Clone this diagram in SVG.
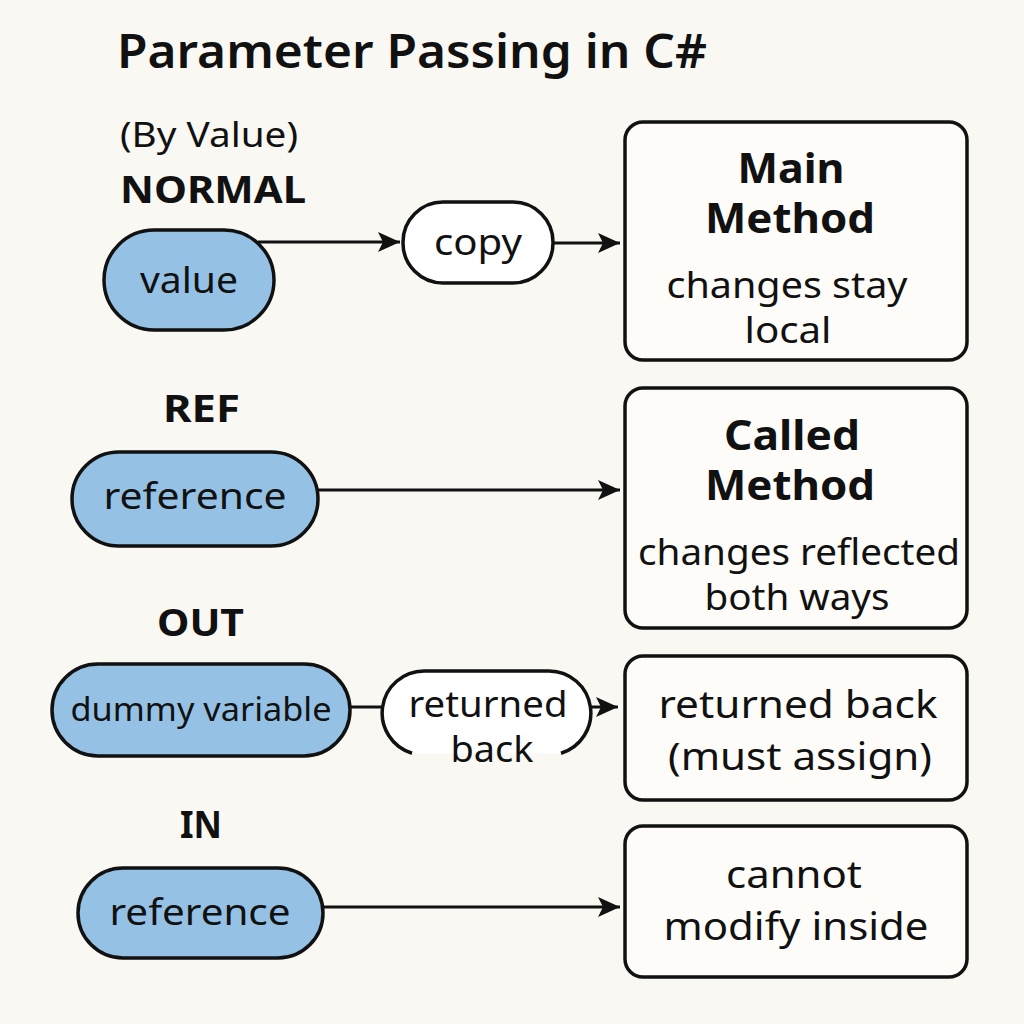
<svg xmlns="http://www.w3.org/2000/svg" width="1024" height="1024" viewBox="0 0 1024 1024">
<defs>
<style>
text{font-family:"Noto Sans","Open Sans","DejaVu Sans",sans-serif;fill:#111;}
.t{font-size:37px;text-anchor:middle;}
.b{font-weight:bold;}
.lbl{font-size:38px;font-weight:bold;text-anchor:middle;}
.h{font-size:42px;font-weight:bold;text-anchor:middle;}
.pill{fill:#95c1e5;stroke:#111;stroke-width:3.5;}
.wp{fill:#fff;stroke:#111;stroke-width:3.5;}
.box{fill:#fdfcf8;stroke:#111;stroke-width:3.5;}
.ln{stroke:#111;stroke-width:3;fill:none;}
</style>
<marker id="a" viewBox="0 0 22 20" refX="22" refY="10" markerWidth="22" markerHeight="20" markerUnits="userSpaceOnUse" orient="auto">
<path d="M0,0 L22,10 L0,20 L5,10 Z" fill="#111"/>
</marker>
</defs>
<rect width="1024" height="1024" fill="#faf8f3"/>
<text x="117" y="68" style="font-size:46px;font-weight:600" textLength="590" lengthAdjust="spacingAndGlyphs">Parameter Passing in C#</text>
<text x="120" y="147" style="font-size:35px" textLength="178" lengthAdjust="spacingAndGlyphs">(By Value)</text>
<text x="120" y="203" style="font-size:38px" class="b" textLength="186" lengthAdjust="spacingAndGlyphs">NORMAL</text>
<text x="163" y="422" style="font-size:38px" class="b" textLength="77" lengthAdjust="spacingAndGlyphs">REF</text>
<text x="157" y="636" style="font-size:38px" class="b" textLength="87" lengthAdjust="spacingAndGlyphs">OUT</text>
<text x="180" y="838" style="font-size:38px" class="b" textLength="42" lengthAdjust="spacingAndGlyphs">IN</text>

<g id="connectors">
<line class="ln" x1="258" y1="242" x2="400" y2="242" marker-end="url(#a)"/>
<line class="ln" x1="553" y1="243" x2="620" y2="243" marker-end="url(#a)"/>
<line class="ln" x1="318" y1="490" x2="620" y2="490" marker-end="url(#a)"/>
<line class="ln" x1="350" y1="707" x2="383" y2="707"/>
<line class="ln" x1="591" y1="707" x2="618" y2="707" marker-end="url(#a)"/>
<line class="ln" x1="323" y1="907" x2="620" y2="907" marker-end="url(#a)"/>
</g>

<g id="value">
<rect class="pill" x="104" y="230" width="170" height="100" rx="50"/>
<text class="t" x="189" y="293" textLength="98" lengthAdjust="spacingAndGlyphs">value</text>
</g>
<g id="copy">
<rect class="wp" x="403" y="202" width="150" height="81" rx="40"/>
<text class="t" x="478" y="255" textLength="88" lengthAdjust="spacingAndGlyphs">copy</text>
</g>
<g id="main">
<rect class="box" x="625" y="122" width="342" height="238" rx="18"/>
<text class="h" x="791" y="183" textLength="107" lengthAdjust="spacingAndGlyphs">Main</text>
<text class="h" x="790" y="233" textLength="170" lengthAdjust="spacingAndGlyphs">Method</text>
<text class="t" x="787" y="298" textLength="241" lengthAdjust="spacingAndGlyphs">changes stay</text>
<text class="t" x="788" y="343" textLength="87" lengthAdjust="spacingAndGlyphs">local</text>
</g>

<g id="ref">
<rect class="pill" x="72" y="452" width="246" height="94" rx="47"/>
<text class="t" x="195" y="509" textLength="183" lengthAdjust="spacingAndGlyphs">reference</text>
</g>
<g id="called">
<rect class="box" x="625" y="388" width="342" height="240" rx="18"/>
<text class="h" x="792" y="450" textLength="136" lengthAdjust="spacingAndGlyphs">Called</text>
<text class="h" x="790" y="500" textLength="170" lengthAdjust="spacingAndGlyphs">Method</text>
<text class="t" x="799" y="565" textLength="322" lengthAdjust="spacingAndGlyphs">changes reflected</text>
<text class="t" x="797" y="610" textLength="185" lengthAdjust="spacingAndGlyphs">both ways</text>
</g>

<g id="dummy">
<rect class="pill" x="52" y="664" width="298" height="92" rx="46"/>
<text class="t" x="201" y="721" style="font-size:33px" textLength="261" lengthAdjust="spacingAndGlyphs">dummy variable</text>
</g>
<g id="returned">
<path class="wp" d="M412 753.2 A42 42 0 0 1 424 671 L549 671 A42 42 0 0 1 561 753.2"/>
<text class="t" x="488" y="717" textLength="159" lengthAdjust="spacingAndGlyphs">returned</text>
<text class="t" x="492" y="762" textLength="83" lengthAdjust="spacingAndGlyphs">back</text>
</g>
<g id="outbox">
<rect class="box" x="625" y="656" width="342" height="144" rx="18"/>
<text class="t" x="798" y="718" style="font-size:38px" textLength="279" lengthAdjust="spacingAndGlyphs">returned back</text>
<text class="t" x="800" y="770" style="font-size:38px" textLength="264" lengthAdjust="spacingAndGlyphs">(must assign)</text>
</g>

<g id="inref">
<rect class="pill" x="78" y="868" width="245" height="90" rx="45"/>
<text class="t" x="200" y="925" textLength="181" lengthAdjust="spacingAndGlyphs">reference</text>
</g>
<g id="inbox">
<rect class="box" x="625" y="826" width="342" height="151" rx="18"/>
<text class="t" x="794" y="888" style="font-size:38px" textLength="136" lengthAdjust="spacingAndGlyphs">cannot</text>
<text class="t" x="796" y="940" style="font-size:38px" textLength="265" lengthAdjust="spacingAndGlyphs">modify inside</text>
</g>
</svg>
